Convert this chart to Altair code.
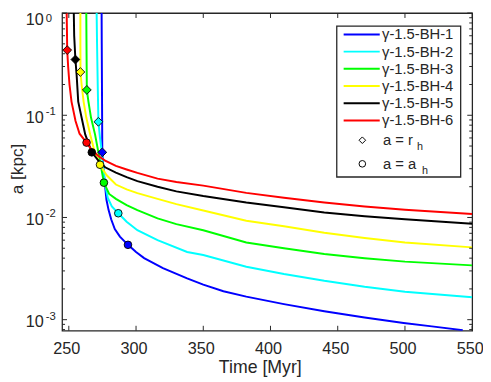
import altair as alt
import pandas as pd

# ---------------- data ----------------
series = ["γ-1.5-BH-1", "γ-1.5-BH-2", "γ-1.5-BH-3", "γ-1.5-BH-4", "γ-1.5-BH-5", "γ-1.5-BH-6"]
colors = ["#0000ff", "#00ffff", "#00ff00", "#ffff00", "#000000", "#ff0000"]

bh1_t = [274.4, 274.5, 274.7, 274.9, 275.8, 276.8, 278.0, 279.6, 281.5, 284.2, 288.0, 294.0, 300.0, 306.0,
         320.0, 338.0, 350.0, 365.0, 382.0, 410.0, 440.0, 470.0, 499.0, 520.0, 543.0]
bh1_a = [1.0, 0.5, 0.15, 0.0434, 0.030, 0.0216, 0.0149, 0.0118, 0.0096, 0.0077, 0.0065, 0.0054, 0.0046, 0.0040,
         0.0032, 0.00254, 0.0022, 0.0019, 0.00168, 0.00142, 0.00121, 0.00105, 0.00093, 0.00086, 0.00079]

bh2_t = [270.7, 271.0, 271.5, 272.0, 273.2, 274.4, 275.5, 276.8, 279.0, 282.0, 286.8, 293.0, 301.0, 316.0,
         338.0, 350.0, 382.0, 410.0, 440.0, 470.0, 500.0, 550.0]
bh2_a = [1.0, 0.5, 0.2, 0.0863, 0.060, 0.045, 0.032, 0.0217, 0.0155, 0.0128, 0.011, 0.0091, 0.0075, 0.0060,
         0.0046, 0.0043, 0.0033, 0.0028, 0.0024, 0.0021, 0.00188, 0.00166]

bh3_t = [263.0, 263.2, 263.4, 264.6, 266.5, 269.5, 272.5, 276.1, 280.0, 285.0, 293.0, 301.0, 316.0, 330.0,
         350.0, 382.0, 410.0, 440.0, 470.0, 500.0, 550.0]
bh3_a = [1.0, 0.4, 0.177, 0.136, 0.095, 0.065, 0.040, 0.0219, 0.017, 0.0152, 0.0132, 0.0118, 0.0098, 0.0086,
         0.0075, 0.0057, 0.0050, 0.0044, 0.0040, 0.0037, 0.0034]

bh4_t = [258.6, 258.6, 258.7, 259.5, 261.0, 263.0, 265.9, 269.0, 273.2, 278.0, 285.0, 293.0, 301.0, 316.0,
         330.0, 350.0, 382.0, 410.0, 440.0, 470.0, 500.0, 550.0]
bh4_a = [1.0, 0.5, 0.265, 0.2, 0.136, 0.095, 0.065, 0.045, 0.0328, 0.026, 0.021, 0.0188, 0.0173, 0.0152,
         0.0135, 0.0117, 0.0093, 0.0082, 0.0071, 0.0063, 0.0057, 0.0051]

bh5_t = [253.7, 254.0, 254.9, 255.8, 257.0, 259.5, 262.2, 267.1, 272.0, 277.0, 285.0, 293.0, 301.0, 316.0,
         330.0, 350.0, 382.0, 410.0, 440.0, 470.0, 500.0, 550.0]
bh5_a = [1.0, 0.6, 0.351, 0.25, 0.136, 0.095, 0.065, 0.0434, 0.036, 0.031, 0.0275, 0.0248, 0.0227, 0.020,
         0.018, 0.0162, 0.0140, 0.0126, 0.0112, 0.0103, 0.0096, 0.0087]

bh6_t = [248.4, 248.6, 248.8, 249.5, 250.5, 252.0, 255.0, 258.0, 263.2, 267.0, 272.0, 277.0, 285.0, 293.0,
         301.0, 316.0, 330.0, 350.0, 382.0, 410.0, 440.0, 470.0, 500.0, 550.0]
bh6_a = [1.0, 0.7, 0.434, 0.3, 0.2, 0.136, 0.088, 0.066, 0.054, 0.046, 0.040, 0.036, 0.032, 0.0295,
         0.0273, 0.024, 0.0222, 0.0205, 0.0174, 0.0156, 0.0140, 0.0128, 0.0119, 0.0108]

# a = r_h (diamonds) and a = a_h (circles)
rh_t = [274.9, 272.0, 263.4, 258.6, 254.9, 248.8]
rh_a = [0.0434, 0.0863, 0.177, 0.265, 0.351, 0.434]
ah_t = [294.0, 286.8, 276.1, 273.2, 267.1, 263.2]
ah_a = [0.0054, 0.011, 0.0219, 0.0328, 0.0434, 0.054]

x_ticks = [250, 300, 350, 400, 450, 500, 550]
x_labels = ["250", "300", "350", "400", "450", "500", "550"]
y_major = [0.001, 0.01, 0.1, 1.0]
y_exp = ["-3", "-2", "-1", "0"]
y_minor = [k * 10.0 ** d for d in (-4, -3, -2, -1) for k in range(2, 10) if 7.8e-4 <= k * 10.0 ** d < 1]

# ---------------- layout ----------------
W, H = 417, 323
AXC = "#262626"
FONT = "Liberation Sans"

xs = alt.Scale(domain=[245, 550], nice=False, zero=False)
ys = alt.Scale(type="log", domain=[7.8e-4, 1.0], nice=False)
cs = alt.Scale(domain=series, range=colors)


def X(f="x"):
    return alt.X(f"{f}:Q", scale=xs, axis=None)


def Y(f="y"):
    return alt.Y(f"{f}:Q", scale=ys, axis=None)


rows = []
for name, ts, As in zip(series, [bh1_t, bh2_t, bh3_t, bh4_t, bh5_t, bh6_t],
                        [bh1_a, bh2_a, bh3_a, bh4_a, bh5_a, bh6_a]):
    for i, (t, a) in enumerate(zip(ts, As)):
        rows.append({"series": name, "x": t, "y": a, "i": i})
df = pd.DataFrame(rows)

lines = alt.Chart(df).mark_line(strokeWidth=2, clip=True).encode(
    x=X(), y=Y(), color=alt.Color("series:N", scale=cs, legend=None), order=alt.Order("i:Q"))

rh_df = pd.DataFrame({"series": series, "x": rh_t, "y": rh_a})
ah_df = pd.DataFrame({"series": series, "x": ah_t, "y": ah_a})
diamonds = alt.Chart(rh_df).mark_point(shape="diamond", filled=True, size=80, stroke="black",
                                       strokeWidth=0.9, opacity=1).encode(
    x=X(), y=Y(), fill=alt.Fill("series:N", scale=cs, legend=None))
circles = alt.Chart(ah_df).mark_point(shape="circle", filled=True, size=60, stroke="black",
                                      strokeWidth=0.9, opacity=1).encode(
    x=X(), y=Y(), fill=alt.Fill("series:N", scale=cs, legend=None))

# ---- ticks (inward, all four sides) ----
xt = pd.DataFrame({"x": x_ticks, "lab": x_labels})
ymaj = pd.DataFrame({"y": y_major, "base": ["10"] * 4, "exp": y_exp})
ymin = pd.DataFrame({"y": y_minor})
ymaj_low = ymaj[ymaj["y"] < 1.0]
ymaj_top = ymaj[ymaj["y"] >= 1.0]

tick_layers = [
    alt.Chart(xt).mark_rule(color=AXC, strokeWidth=1).encode(x=X(), y=alt.value(H), y2=alt.value(H - 5)),
    alt.Chart(xt).mark_rule(color=AXC, strokeWidth=1).encode(x=X(), y=alt.value(0), y2=alt.value(5)),
    alt.Chart(ymaj).mark_rule(color=AXC, strokeWidth=1).encode(y=Y(), x=alt.value(0), x2=alt.value(5)),
    alt.Chart(ymaj).mark_rule(color=AXC, strokeWidth=1).encode(y=Y(), x=alt.value(W), x2=alt.value(W - 5)),
    alt.Chart(ymin).mark_rule(color=AXC, strokeWidth=1).encode(y=Y(), x=alt.value(0), x2=alt.value(3)),
    alt.Chart(ymin).mark_rule(color=AXC, strokeWidth=1).encode(y=Y(), x=alt.value(W), x2=alt.value(W - 3)),
]

# ---- tick labels ----
xlab = alt.Chart(xt).mark_text(font=FONT, fontSize=16.5, color=AXC, baseline="alphabetic",
                               align="center", dx=-2).encode(x=X(), y=alt.value(H + 24), text="lab:N")
ylab10 = alt.Chart(ymaj_low).mark_text(font=FONT, fontSize=16.5, color=AXC, baseline="alphabetic",
                                       align="right", dy=7.5).encode(y=Y(), x=alt.value(-18.5), text="base:N")
ylabexp = alt.Chart(ymaj_low).mark_text(font=FONT, fontSize=11.5, color=AXC, baseline="alphabetic",
                                        align="left", dy=0).encode(y=Y(), x=alt.value(-16.5), text="exp:N")
# top label (10^0) nudged down so that it stays inside the drawing
ylab10_top = alt.Chart(ymaj_top).mark_text(font=FONT, fontSize=16.5, color=AXC, baseline="alphabetic",
                                           align="right", dy=12).encode(y=Y(), x=alt.value(-18.5), text="base:N")
ylabexp_top = alt.Chart(ymaj_top).mark_text(font=FONT, fontSize=11.5, color=AXC, baseline="alphabetic",
                                            align="left", dy=9).encode(y=Y(), x=alt.value(-16.5), text="exp:N")

xtitle = alt.Chart(pd.DataFrame({"t": ["Time [Myr]"]})).mark_text(
    font=FONT, fontSize=18, color=AXC, baseline="alphabetic", align="center").encode(
    x=alt.value(201.5), y=alt.value(H + 43), text="t:N")
ytitle = alt.Chart(pd.DataFrame({"t": ["a [kpc]"]})).mark_text(
    font=FONT, fontSize=17.5, color=AXC, baseline="middle", align="center", angle=270).encode(
    x=alt.value(-44.5), y=alt.value(H / 2 - 3), text="t:N")

# ---- legend (manual, one box) ----
box = alt.Chart(pd.DataFrame({"b": [0]})).mark_rect(fill="white", stroke=AXC, strokeWidth=1.3).encode(
    x=alt.value(279.3), x2=alt.value(405.3), y=alt.value(13.3), y2=alt.value(166.7))
leg_layers = [box]
for k, (name, col) in enumerate(zip(series, colors)):
    yy = 21.7 + 17.5 * k
    leg_layers.append(alt.Chart(pd.DataFrame({"s": [name]})).mark_rule(color=col, strokeWidth=2).encode(
        x=alt.value(286.3), x2=alt.value(323.0), y=alt.value(yy)))
    leg_layers.append(alt.Chart(pd.DataFrame({"s": [name]})).mark_text(
        font=FONT, fontSize=15, color=AXC, align="left", baseline="middle").encode(
        x=alt.value(325.3), y=alt.value(yy), text="s:N"))

leg_marks = [("diamond", "a = r", 129.3, 361.0), ("circle", "a = a", 153.3, 366.0)]
for shp, txt, yy, hx in leg_marks:
    leg_layers.append(alt.Chart(pd.DataFrame({"s": [txt]})).mark_point(
        shape=shp, filled=False, size=45, stroke="black", strokeWidth=1, opacity=1).encode(
        x=alt.value(305.3), y=alt.value(yy)))
    leg_layers.append(alt.Chart(pd.DataFrame({"s": [txt]})).mark_text(
        font=FONT, fontSize=15, color=AXC, align="left", baseline="middle").encode(
        x=alt.value(326.3), y=alt.value(yy), text="s:N"))
    leg_layers.append(alt.Chart(pd.DataFrame({"s": ["h"]})).mark_text(
        font=FONT, fontSize=11, color=AXC, align="left", baseline="middle").encode(
        x=alt.value(hx), y=alt.value(yy + 7), text="s:N"))

chart = alt.layer(
    lines, diamonds, circles, *tick_layers, xlab, ylab10, ylabexp, ylab10_top, ylabexp_top,
    xtitle, ytitle, *leg_layers
).properties(
    width=W, height=H,
    autosize=alt.AutoSizeParams(type="none"),
    padding={"left": 55, "top": 2, "right": 11, "bottom": 49},
    background="white",
).configure_view(stroke=AXC, strokeWidth=1.3)

chart.save("out.html", embed_options={"renderer": "svg", "actions": False})
